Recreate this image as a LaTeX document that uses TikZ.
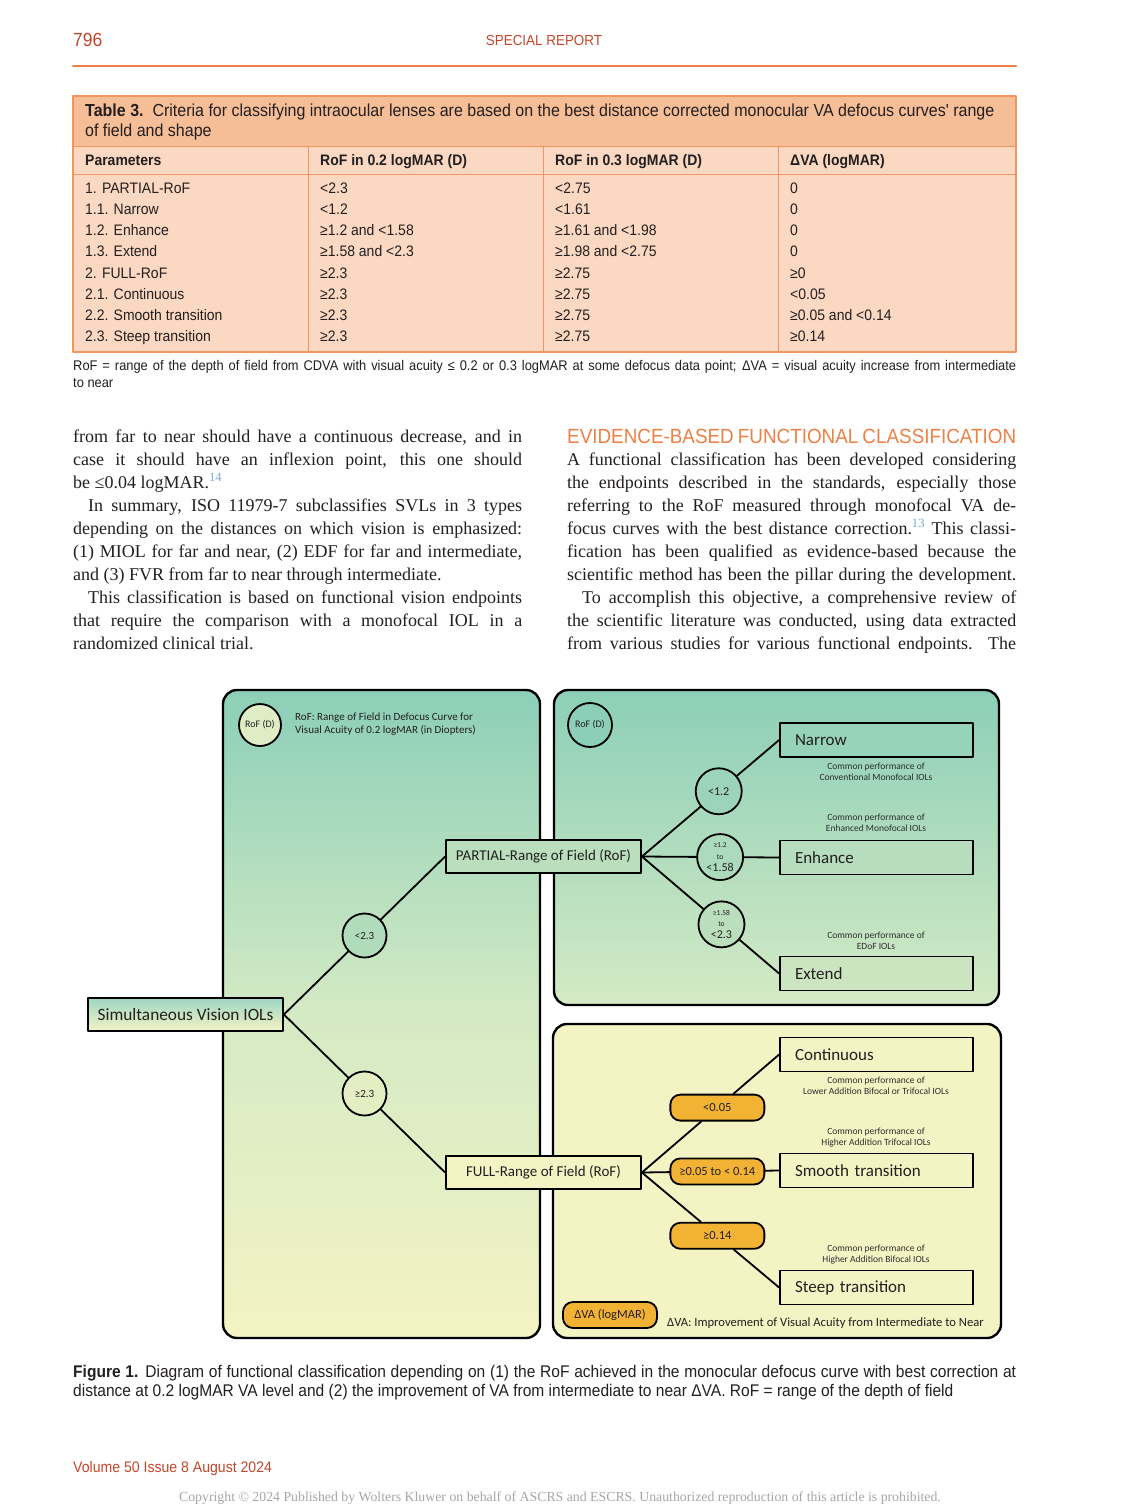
\documentclass[tikz,border=0pt]{standalone}
\usepackage{fontspec}
\setmainfont{Liberation Serif}
\newfontfamily\tabsans[FakeStretch=0.92]{Liberation Sans}
\newfontfamily\figsans{Carlito}
\usetikzlibrary{positioning,calc}
\definecolor{hdred}{RGB}{196,70,42}
\definecolor{orng}{RGB}{238,128,70}
\definecolor{tabline}{RGB}{240,150,95}
\definecolor{tabhead}{RGB}{246,190,150}
\definecolor{tabbody}{RGB}{251,216,193}
\definecolor{ink}{RGB}{35,31,32}
\definecolor{refblue}{RGB}{120,170,210}
\definecolor{tealA}{RGB}{140,207,184}
\definecolor{tealB}{RGB}{212,234,196}
\definecolor{paleY}{RGB}{244,243,196}
\definecolor{pillO}{RGB}{242,178,52}
\definecolor{notegray}{RGB}{45,45,45}
\newcommand{\jline}[2][449pt]{\makebox[#1][s]{#2}}
\newcommand{\refmark}[1]{\textsuperscript{\color{refblue}#1}}
\begin{document}
\begin{tikzpicture}[x=1pt,y=-1pt,line cap=round,line join=round,
  panel/.style={draw=black,line width=2.4pt,rounded corners=14pt},
  catbox/.style={draw=black,line width=1.8pt,minimum height=34pt,inner xsep=15pt,text width=163pt,align=left,font=\figsans\fontsize{17}{19}\selectfont,text=ink},
  rangebox/.style={draw=black,line width=1.8pt,minimum width=195pt,minimum height=33pt,font=\figsans\fontsize{15}{17}\selectfont,text=ink},
  cut/.style={circle,draw=black,line width=1.8pt,minimum size=44pt,inner sep=0pt,align=center,font=\figsans\fontsize{11}{10}\selectfont,text=ink},
  pill/.style={draw=black,line width=1.8pt,fill=pillO,rounded corners=10pt,minimum width=94pt,minimum height=26pt,inner sep=0pt,font=\figsans\fontsize{12.5}{13}\selectfont,text=ink},
  note/.style={align=center,inner sep=0pt,font=\figsans\fontsize{9.5}{11}\selectfont,text=notegray},
  link/.style={line width=1.8pt},
  body/.style={anchor=base west,inner sep=0pt,text=ink,font=\fontsize{18}{23}\selectfont},
  tabtxt/.style={anchor=base west,inner sep=0pt,text=ink,font=\tabsans\fontsize{15.2}{17}\selectfont}]
\useasboundingbox[fill=white] (0,0) rectangle (1125,1506);

% running head
\node[anchor=base west,inner sep=0pt,text=hdred,font=\tabsans\fontsize{19}{20}\selectfont] (pagenum) at (73,47) {796};
\node[anchor=base,inner sep=0pt,text=hdred,font=\tabsans\fontsize{14.6}{16}\selectfont] (runhead) at (544,46) {SPECIAL REPORT};
\draw[orng,line width=2pt] (73,66) -- (1016,66);

% table 3
\fill[tabbody] (73,96) rectangle (1016,352);
\fill[tabhead] (73,96) rectangle (1016,147);
\draw[tabline,line width=1pt] (73,147) -- (1016,147);
\draw[tabline,line width=1pt] (73,175) -- (1016,175);
\foreach \cx in {308,543,778}
  \draw[tabline,line width=1pt] (\cx,147) -- (\cx,352);
\draw[tabline,line width=2pt] (73,96) rectangle (1016,352);
\node[tabtxt,font=\tabsans\fontsize{17.4}{19}\selectfont] (tabtitle1) at (85,117) {\textbf{Table 3.}\ \ Criteria for classifying intraocular lenses are based on the best distance corrected monocular VA defocus curves' range};
\node[tabtxt,font=\tabsans\fontsize{17.4}{19}\selectfont] (tabtitle2) at (85,137) {of field and shape};
\node[tabtxt,font=\tabsans\bfseries\fontsize{15.2}{17}\selectfont] (hd1) at (85,166) {Parameters};
\node[tabtxt,font=\tabsans\bfseries\fontsize{15.2}{17}\selectfont] (hd2) at (320,166) {RoF in 0.2 logMAR (D)};
\node[tabtxt,font=\tabsans\bfseries\fontsize{15.2}{17}\selectfont] (hd3) at (555,166) {RoF in 0.3 logMAR (D)};
\node[tabtxt,font=\tabsans\bfseries\fontsize{15.2}{17}\selectfont] (hd4) at (790,166) {ΔVA (logMAR)};
\foreach \pa/\pb/\pc/\pd [count=\r from 0] in {
  {1. PARTIAL-RoF}/{<2.3}/{<2.75}/{0},
  {1.1. Narrow}/{<1.2}/{<1.61}/{0},
  {1.2. Enhance}/{≥1.2 and <1.58}/{≥1.61 and <1.98}/{0},
  {1.3. Extend}/{≥1.58 and <2.3}/{≥1.98 and <2.75}/{0},
  {2. FULL-RoF}/{≥2.3}/{≥2.75}/{≥0},
  {2.1. Continuous}/{≥2.3}/{≥2.75}/{<0.05},
  {2.2. Smooth transition}/{≥2.3}/{≥2.75}/{≥0.05 and <0.14},
  {2.3. Steep transition}/{≥2.3}/{≥2.75}/{≥0.14}}{
  \node[tabtxt] (ra\r) at (85,{194+21*\r}) {\pa};
  \node[tabtxt] (rb\r) at (320,{194+21*\r}) {\pb};
  \node[tabtxt] (rc\r) at (555,{194+21*\r}) {\pc};
  \node[tabtxt] (rd\r) at (790,{194+21*\r}) {\pd};
}
\node[tabtxt,font=\tabsans\fontsize{14}{15}\selectfont] (tabnote1) at (73,370) {\jline[943pt]{RoF = range of the depth of field from CDVA with visual acuity ≤ 0.2 or 0.3 logMAR at some defocus data point; ΔVA = visual acuity increase from intermediate}};
\node[tabtxt,font=\tabsans\fontsize{14}{15}\selectfont] (tabnote2) at (73,387) {to near};

% left column
\node[body] (l1) at (73,442) {\jline{from far to near should have a continuous decrease, and in}};
\node[body] (l2) at (73,465) {\jline{case it should have an inflexion point, this one should}};
\node[body] (l3) at (73,488) {be ≤0.04 logMAR.\refmark{14}};
\node[body] (l4) at (73,511) {\jline{\hspace*{15pt}In summary, ISO 11979-7 subclassifies SVLs in 3 types}};
\node[body] (l5) at (73,534) {\jline{depending on the distances on which vision is emphasized:}};
\node[body] (l6) at (73,557) {\jline{(1) MIOL for far and near, (2) EDF for far and intermediate,}};
\node[body] (l7) at (73,580) {and (3) FVR from far to near through intermediate.};
\node[body] (l8) at (73,603) {\jline{\hspace*{15pt}This classification is based on functional vision endpoints}};
\node[body] (l9) at (73,626) {\jline{that require the comparison with a monofocal IOL in a}};
\node[body] (l10) at (73,649) {randomized clinical trial.};

% right column
\node[body,text=orng,font=\tabsans\fontsize{20.5}{22}\selectfont] (sechead) at (567,443) {\jline{EVIDENCE-BASED FUNCTIONAL CLASSIFICATION}};
\node[body] (r1) at (567,465) {\jline{A functional classification has been developed considering}};
\node[body] (r2) at (567,488) {\jline{the endpoints described in the standards, especially those}};
\node[body] (r3) at (567,511) {\jline{referring to the RoF measured through monofocal VA de-}};
\node[body] (r4) at (567,534) {\jline{focus curves with the best distance correction.\refmark{13} This classi-}};
\node[body] (r5) at (567,557) {\jline{fication has been qualified as evidence-based because the}};
\node[body] (r6) at (567,580) {\jline{scientific method has been the pillar during the development.}};
\node[body] (r7) at (567,603) {\jline{\hspace*{15pt}To accomplish this objective, a comprehensive review of}};
\node[body] (r8) at (567,626) {\jline{the scientific literature was conducted, using data extracted}};
\node[body] (r9) at (567,649) {\jline{from various studies for various functional endpoints. The}};

% figure 1: panels
\draw[panel,top color=tealA,bottom color=paleY,middle color=tealB] (223,690) rectangle (540,1338);
\draw[panel,top color=tealA,bottom color=tealB] (554,690) rectangle (999,1005);
\draw[panel,fill=paleY] (553,1024) rectangle (1001,1338);

% legends
\node[cut,minimum size=42pt,fill=tealB!70!paleY,font=\figsans\fontsize{10}{10}\selectfont] (legrof) at (260,725) {RoF (D)};
\node[anchor=west,align=left,inner sep=0pt,text=ink,font=\figsans\fontsize{11}{13.5}\selectfont] (legroftxt) at (295,724) {RoF: Range of Field in Defocus Curve for\\Visual Acuity of 0.2 logMAR (in Diopters)};
\node[cut,fill=tealA,font=\figsans\fontsize{10}{10}\selectfont] (legrof2) at (590,725) {RoF (D)};
\node[pill] (legva) at (610,1315) {ΔVA (logMAR)};
\node[anchor=west,inner sep=0pt,text=ink,font=\figsans\fontsize{12.6}{14}\selectfont] (legvatxt) at (667,1323) {ΔVA: Improvement of Visual Acuity from Intermediate to Near};

% figure 1: boxes
\node[rangebox,font=\figsans\fontsize{17.3}{19}\selectfont,top color=tealA!85!white,bottom color=paleY] (sim) at (185.5,1014.5) {Simultaneous Vision IOLs};
\node[rangebox,fill=tealA!55!paleY] (partial) at (543.5,856.5) {PARTIAL-Range of Field (RoF)};
\node[rangebox,fill=paleY] (full) at (543.5,1172.5) {FULL-Range of Field (RoF)};
\node[catbox,fill=tealA!90!paleY] (narrow) at (876.5,740) {Narrow};
\node[catbox,fill=tealA!60!paleY] (enhance) at (876.5,857.5) {Enhance};
\node[catbox,fill=tealA!40!paleY] (extend) at (876.5,973.5) {Extend};
\node[catbox,fill=paleY] (contin) at (876.5,1054.5) {Continuous};
\node[catbox,fill=paleY] (smooth) at (876.5,1170.5) {Smooth transition};
\node[catbox,fill=paleY] (steep) at (876.5,1287.5) {Steep transition};

% figure 1: cut-off circles and pills
\node[cut,fill=tealA!65!paleY] (lt23) at ($(sim.east)!0.5!(partial.west)$) {<2.3};
\node[cut,fill=paleY!85!tealA] (ge23) at ($(sim.east)!0.5!(full.west)$) {≥2.3};
\node[cut,minimum size=46pt,font=\figsans\fontsize{12}{10}\selectfont,fill=tealA!85!paleY] (lt12) at ($(partial.east)!0.56!(narrow.west)$) {<1.2};
\node[cut,minimum size=46pt,font=\figsans\fontsize{12}{10}\selectfont,fill=tealA!70!paleY] (ge12) at ($(partial.east)!0.57!(enhance.west)$) {{\fontsize{7.5}{7}\selectfont ≥1.2}\\[1.5pt]{\fontsize{7.5}{7}\selectfont to}\\[2pt]<1.58};
\node[cut,minimum size=46pt,font=\figsans\fontsize{12}{10}\selectfont,fill=tealA!55!paleY] (ge158) at ($(partial.east)!0.58!(extend.west)$) {{\fontsize{7.5}{7}\selectfont ≥1.58}\\[1.5pt]{\fontsize{7.5}{7}\selectfont to}\\[2pt]<2.3};
\node[pill] (lt005) at ($(full.east)!0.55!(contin.west)$) {<0.05};
\node[pill] (ge005) at ($(full.east)!0.55!(smooth.west)$) {≥0.05 to < 0.14};
\node[pill] (ge014) at ($(full.east)!0.55!(steep.west)$) {≥0.14};

% figure 1: connectors
\draw[link] (sim.east) -- (lt23) -- (partial.west);
\draw[link] (sim.east) -- (ge23) -- (full.west);
\draw[link] (partial.east) -- (lt12) -- (narrow.west);
\draw[link] (partial.east) -- (ge12) -- (enhance.west);
\draw[link] (partial.east) -- (ge158) -- (extend.west);
\draw[link] (full.east) -- (lt005) -- (contin.west);
\draw[link] (full.east) -- (ge005) -- (smooth.west);
\draw[link] (full.east) -- (ge014) -- (steep.west);

% figure 1: notes
\node[note] (nnarrow) at (876,772) {Common performance of\\Conventional Monofocal IOLs};
\node[note] (nenhance) at (876,823) {Common performance of\\Enhanced Monofocal IOLs};
\node[note] (nextend) at (876,941) {Common performance of\\EDoF IOLs};
\node[note] (ncontin) at (876,1086) {Common performance of\\Lower Addition Bifocal or Trifocal IOLs};
\node[note] (nsmooth) at (876,1138) {Common performance of\\Higher Addition Trifocal IOLs};
\node[note] (nsteep) at (876,1255) {Common performance of\\Higher Addition Bifocal IOLs};

% caption and footer
\node[tabtxt,font=\tabsans\fontsize{16.9}{18}\selectfont] (cap1) at (73,1377) {\jline[943pt]{\textbf{Figure 1.} Diagram of functional classification depending on (1) the RoF achieved in the monocular defocus curve with best correction at}};
\node[tabtxt,font=\tabsans\fontsize{16.9}{18}\selectfont] (cap2) at (73,1396) {distance at 0.2 logMAR VA level and (2) the improvement of VA from intermediate to near ΔVA. RoF = range of the depth of field};
\node[tabtxt,text=hdred,font=\tabsans\fontsize{15.3}{17}\selectfont] (volume) at (73,1472) {Volume 50 Issue 8 August 2024};
\node[anchor=base,inner sep=0pt,text=black!35,font=\fontsize{13.8}{14}\selectfont] (copyr) at (560,1501) {Copyright © 2024 Published by Wolters Kluwer on behalf of ASCRS and ESCRS. Unauthorized reproduction of this article is prohibited.};
\end{tikzpicture}
\end{document}
